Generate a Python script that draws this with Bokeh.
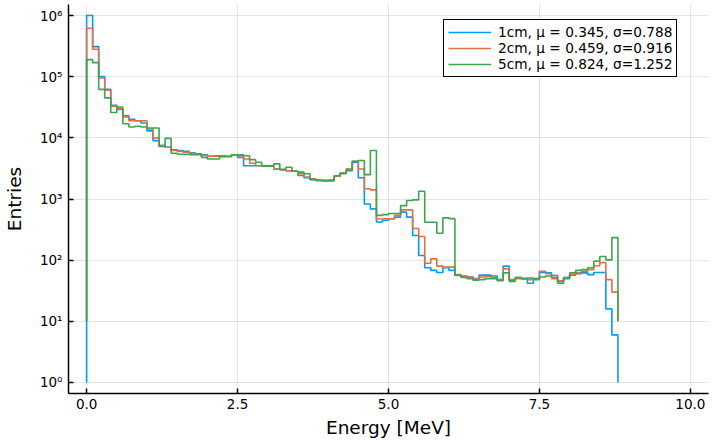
import numpy as np
from bokeh.plotting import figure
from bokeh.models import Range1d, FixedTicker
from bokeh.embed import file_html
from bokeh.resources import INLINE

# ---- data ----
bin_width = 0.1
n_bins = 88
edges = [round(i * bin_width, 1) for i in range(n_bins + 1)]

counts_1cm = [1.0e6, 3.1e5, 1.0e5, 6.2e4, 3.4e4, 2.9e4, 2.3e4, 2.0e4, 1.9e4, 1.75e4,
              1.3e4, 9.0e3, 7.5e3, 7.0e3, 6.4e3, 6.2e3, 6.0e3, 5.7e3, 5.5e3, 5.3e3,
              5.0e3, 5.1e3, 5.1e3, 5.0e3, 5.3e3, 4.8e3, 3.5e3, 3.5e3, 3.5e3, 3.45e3,
              3.45e3, 3.1e3, 3.0e3, 2.9e3, 2.85e3, 2.42e3, 2.22e3, 2.06e3, 2.05e3, 2.0e3,
              2.0e3, 2.35e3, 2.65e3, 3.1e3, 4.0e3, 2.22e3, 830, 690, 420, 450,
              475, 505, 610, 505, 253, 119, 75, 68, 63, 75,
              68, 56, 55, 53, 50, 57, 57, 55, 48, 80,
              47, 52, 50, 42, 48, 63, 62, 52, 45, 52,
              57, 60, 62, 58, 63, 63, 16, 6]

counts_2cm = [6.2e5, 2.8e5, 9.5e4, 6.0e4, 3.3e4, 3.0e4, 2.2e4, 1.9e4, 1.9e4, 1.9e4,
              1.4e4, 1.0e4, 7.5e3, 7.0e3, 6.2e3, 6.0e3, 5.8e3, 5.6e3, 5.4e3, 5.2e3,
              5.0e3, 5.0e3, 5.0e3, 5.0e3, 5.3e3, 5.1e3, 4.5e3, 3.85e3, 3.5e3, 3.45e3,
              3.45e3, 3.1e3, 3.0e3, 2.9e3, 2.85e3, 2.58e3, 2.28e3, 2.14e3, 2.05e3, 2.0e3,
              2.05e3, 2.35e3, 2.65e3, 3.1e3, 4.15e3, 3.1e3, 1.47e3, 1.41e3, 470, 475,
              475, 540, 665, 665, 330, 244, 89, 105, 80, 77,
              77, 58, 55, 53, 49, 53, 54, 52, 48, 72,
              48, 50, 50, 48, 49, 66, 60, 50, 46, 52,
              58, 62, 66, 70, 81, 91, 48, 30]

counts_5cm = [1.9e5, 1.7e5, 6.2e4, 4.5e4, 2.6e4, 3.2e4, 1.7e4, 1.5e4, 1.55e4, 1.5e4,
              1.45e4, 1.45e4, 7.2e3, 9.8e3, 5.6e3, 5.4e3, 5.4e3, 5.3e3, 5.3e3, 4.8e3,
              4.5e3, 4.5e3, 4.9e3, 4.9e3, 5.3e3, 5.3e3, 5.1e3, 4.4e3, 4.0e3, 3.45e3,
              3.45e3, 3.75e3, 3.05e3, 3.3e3, 2.85e3, 2.75e3, 2.58e3, 2.08e3, 2.0e3, 2.0e3,
              2.0e3, 2.4e3, 2.6e3, 2.9e3, 4.15e3, 4.25e3, 2.5e3, 6.2e3, 540, 555,
              580, 580, 780, 944, 968, 1340, 417, 417, 276, 492,
              477, 57, 52, 50, 47, 48, 50, 50, 46, 62,
              45, 52, 50, 51, 50, 53, 55, 56, 42, 50,
              62, 68, 70, 75, 96, 115, 101, 234]

baselines = [1, 10, 10]
labels = ["1cm, \u03bc = 0.345, \u03c3=0.788",
          "2cm, \u03bc = 0.459, \u03c3=0.916",
          "5cm, \u03bc = 0.824, \u03c3=1.252"]
colors = ["#009AFA", "#E36F47", "#3EA44E"]

x_tick_values = [0, 2.5, 5, 7.5, 10]
x_tick_labels = ["0.0", "2.5", "5.0", "7.5", "10.0"]
y_tick_values = [1, 10, 100, 1000, 10000, 100000, 1000000]
y_tick_labels = ["10\u2070", "10\u00b9", "10\u00b2", "10\u00b3", "10\u2074", "10\u2075", "10\u2076"]


def step_path(edges, counts, base):
    xs = [edges[0]]
    ys = [base]
    for i, w in enumerate(counts):
        xs += [edges[i], edges[i + 1]]
        ys += [w, w]
    xs.append(edges[-1])
    ys.append(base)
    return xs, ys


FONT = "DejaVu Sans"

p = figure(width=712, height=444, y_axis_type="log",
           x_range=Range1d(-0.3, 10.3), y_range=Range1d(10 ** -0.18, 10 ** 6.18),
           output_backend="svg", toolbar_location=None,
           min_border_left=68, min_border_right=4, min_border_top=4, min_border_bottom=51)

for counts, base, lab, col in zip([counts_1cm, counts_2cm, counts_5cm], baselines, labels, colors):
    xs, ys = step_path(edges, counts, base)
    p.line(xs, ys, line_color=col, line_width=1.6, legend_label=lab)

p.background_fill_color = "white"
p.border_fill_color = "white"
p.outline_line_color = None

p.xaxis.ticker = FixedTicker(ticks=x_tick_values)
p.xaxis.major_label_overrides = dict(zip(x_tick_values, x_tick_labels))
p.yaxis.ticker = FixedTicker(ticks=y_tick_values)
p.yaxis.major_label_overrides = dict(zip(y_tick_values, y_tick_labels))
p.xgrid.ticker = FixedTicker(ticks=x_tick_values)
p.ygrid.ticker = FixedTicker(ticks=y_tick_values)

for g in (p.xgrid, p.ygrid):
    g.grid_line_color = "black"
    g.grid_line_alpha = 0.1
    g.grid_line_width = 1

p.xaxis.axis_label = "Energy [MeV]"
p.yaxis.axis_label = "Entries"
for ax in (p.xaxis, p.yaxis):
    ax.axis_line_color = "black"
    ax.axis_line_width = 1.5
    ax.major_tick_line_color = "black"
    ax.major_tick_line_width = 1.5
    ax.major_tick_in = 5
    ax.major_tick_out = 0
    ax.minor_tick_line_color = None
    ax.major_label_text_font = FONT
    ax.major_label_text_font_size = "13.5px"
    ax.major_label_text_color = "black"
    ax.axis_label_text_font = FONT
    ax.axis_label_text_font_size = "18.5px"
    ax.axis_label_text_font_style = "normal"
    ax.axis_label_text_color = "black"
p.xaxis.major_label_standoff = 5
p.xaxis.axis_label_standoff = 5
p.yaxis.major_label_standoff = 6
p.yaxis.axis_label_standoff = 12

lg = p.legend[0]
lg.location = (375, 316)
lg.border_line_color = "black"
lg.border_line_width = 1
lg.border_line_alpha = 1
lg.background_fill_color = "white"
lg.background_fill_alpha = 1
lg.label_text_font = FONT
lg.label_text_font_size = "13.7px"
lg.label_text_color = "black"
lg.glyph_width = 43
lg.glyph_height = 14
lg.label_height = 14
lg.label_standoff = 7
lg.padding = 4
lg.spacing = 0
lg.margin = 0

open("out.html", "w").write(file_html(p, INLINE))
